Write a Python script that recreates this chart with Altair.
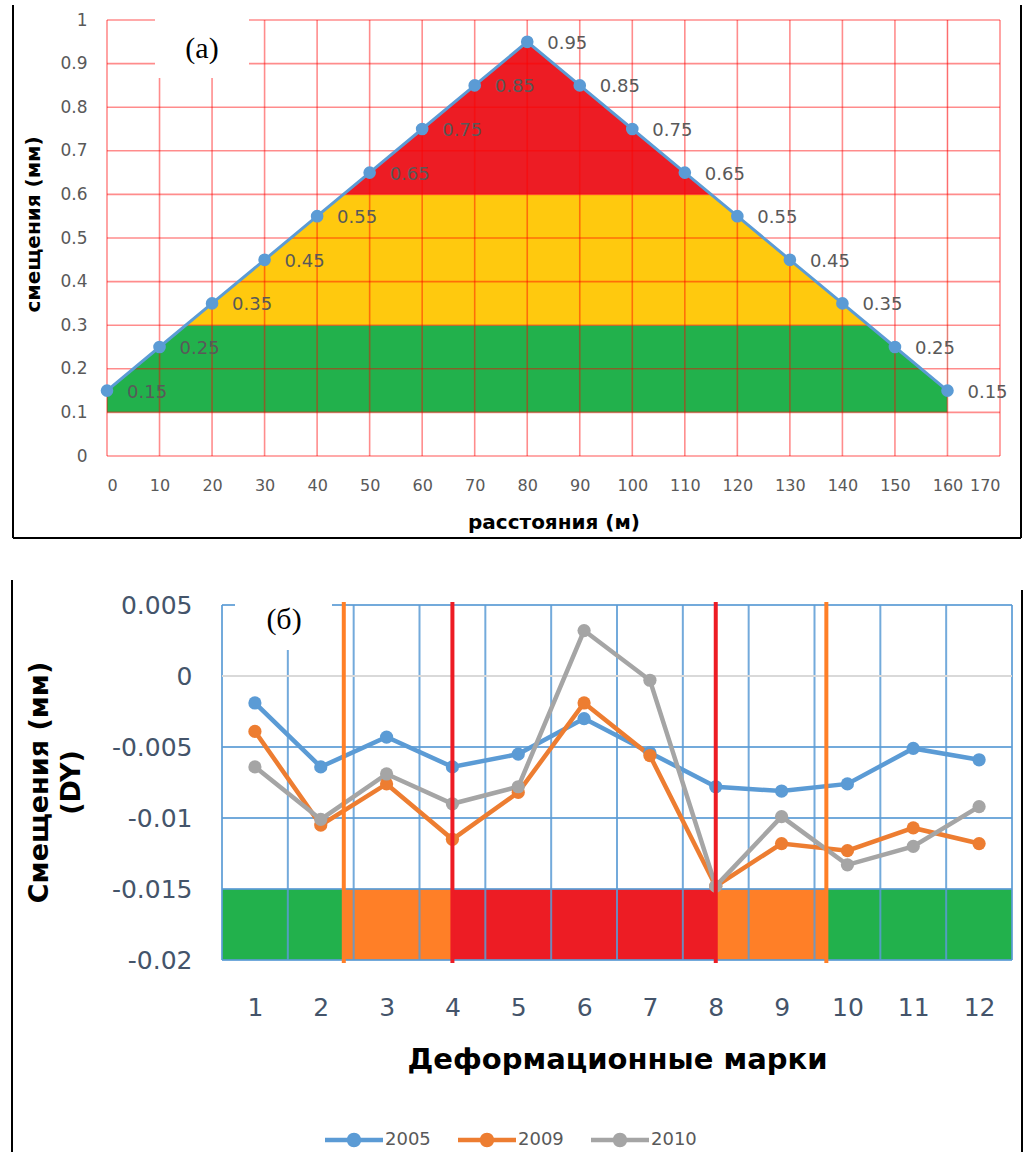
import altair as alt
import pandas as pd

# ---------------- panel (а): displacement envelope along the profile ----------------
distance_m = [0, 10, 20, 30, 40, 50, 60, 70, 80, 90, 100, 110, 120, 130, 140, 150, 160]
shift_mm = [0.15, 0.25, 0.35, 0.45, 0.55, 0.65, 0.75, 0.85, 0.95,
            0.85, 0.75, 0.65, 0.55, 0.45, 0.35, 0.25, 0.15]
a_x_ticks = [0, 10, 20, 30, 40, 50, 60, 70, 80, 90, 100, 110, 120, 130, 140, 150, 160, 170]
a_y_ticks = [0, 0.1, 0.2, 0.3, 0.4, 0.5, 0.6, 0.7, 0.8, 0.9, 1]
a_zone_lo = [0.1, 0.3, 0.6]
a_zone_hi = [0.3, 0.6, 1.0]
a_zone_colors = ["#22B14C", "#FFC90E", "#ED1C24"]

# ---------------- panel (б): deformation marks, DY by year ----------------
marks = [1, 2, 3, 4, 5, 6, 7, 8, 9, 10, 11, 12]
years = ["2005", "2009", "2010"]
dy_2005 = [-0.0019, -0.0064, -0.0043, -0.0064, -0.0055, -0.0030,
           -0.0054, -0.0078, -0.0081, -0.0076, -0.0051, -0.0059]
dy_2009 = [-0.0039, -0.0105, -0.0076, -0.0115, -0.0082, -0.0019,
           -0.0056, -0.0148, -0.0118, -0.0123, -0.0107, -0.0118]
dy_2010 = [-0.0064, -0.0101, -0.0069, -0.0090, -0.0078, 0.0032,
           -0.0003, -0.0148, -0.0099, -0.0133, -0.0120, -0.0092]
year_colors = ["#5B9BD5", "#ED7D31", "#A5A5A5"]
b_y_ticks = [0.005, 0, -0.005, -0.01, -0.015, -0.02]
b_blue_grid = [0.005, -0.005, -0.01, -0.015, -0.02]
b_cell_edges = [0.5, 1.5, 2.5, 3.5, 4.5, 5.5, 6.5, 7.5, 8.5, 9.5, 10.5, 11.5, 12.5]
b_zone_from = [0.5, 2.35, 4.0, 8.0, 9.68]
b_zone_to = [2.35, 4.0, 8.0, 9.68, 12.5]
b_zone_colors = ["#22B14C", "#FF7F27", "#ED1C24", "#FF7F27", "#22B14C"]
b_limit_pos = [2.35, 4.0, 8.0, 9.68]
b_limit_colors = ["#FF7F27", "#ED1C24", "#ED1C24", "#FF7F27"]

SANS = "DejaVu Sans"
SERIF = "Liberation Serif"
one_row = pd.DataFrame({"k": [0]})

# One shared drawing area; each panel gets its own pixel ranges inside it.
W, H = 905, 940
A_W, A_H = 893, 436           # panel (а) occupies x 0..893, y 0..436
B_X0, B_X1 = 115, 905         # panel (б) x range
B_Y0, B_Y1 = 585, 940         # panel (б) y range (top, bottom)


def vrule(x, y0, y1, color="black", width=2):
    return alt.Chart(one_row).mark_rule(color=color, strokeWidth=width).encode(
        x=alt.value(x), y=alt.value(y0), y2=alt.value(y1))


def hrule(y, x0, x1, color="black", width=2):
    return alt.Chart(one_row).mark_rule(color=color, strokeWidth=width).encode(
        y=alt.value(y), x=alt.value(x0), x2=alt.value(x1))


# ================= panel (а) =================
sx_a = alt.Scale(domain=[0, 170], range=[0, A_W], nice=False, zero=False)
sy_a = alt.Scale(domain=[0, 1], range=[A_H, 0], nice=False, zero=False)
ax_a_x = alt.Axis(orient="bottom", offset=-(H - A_H), values=a_x_ticks, grid=False,
                  domain=False, ticks=False, labelOverlap=False,
                  labelFont=SANS, labelFontSize=16, labelColor="#595959", labelPadding=21,
                  title="расстояния (м)", titleFont=SANS, titleFontSize=20,
                  titleFontWeight="bold", titleColor="black",
                  titleX=A_W / 2, titleY=72, titleBaseline="alphabetic")
ax_a_y = alt.Axis(orient="left", values=a_y_ticks, format="~g", grid=False, domain=False,
                  ticks=False,
                  labelFont=SANS, labelFontSize=17, labelColor="#595959", labelPadding=20,
                  title="смещения (мм)", titleFont=SANS, titleFontSize=20,
                  titleFontWeight="bold", titleColor="black", titleAngle=-90,
                  titleX=-68, titleY=204, titleAlign="center", titleBaseline="alphabetic")


def xa(field):
    return alt.X(field, type="quantitative", scale=sx_a, axis=ax_a_x)


def ya(field):
    return alt.Y(field, type="quantitative", scale=sy_a, axis=ax_a_y)


dfa = pd.DataFrame({"dist": distance_m, "shift": shift_mm})
dfa["top"] = 1.0
zones_a = pd.DataFrame({"x0": 0, "x1": 160, "lo": a_zone_lo, "hi": a_zone_hi, "c": a_zone_colors})
vgrid_a = pd.DataFrame({"g": a_x_ticks, "lo": 0.0, "hi": 1.0})
hgrid_a = pd.DataFrame({"g": a_y_ticks, "lo": 0.0, "hi": 170.0})

a_bands = alt.Chart(zones_a).mark_rect().encode(
    x=xa("x0"), x2="x1", y=ya("lo"), y2="hi", color=alt.Color("c:N", scale=None))
# white cover above the envelope leaves the coloured zones only below the line
a_cover = alt.Chart(dfa).mark_area(color="white", opacity=1).encode(
    x=xa("dist"), y=ya("shift"), y2="top")
a_vgrid = alt.Chart(vgrid_a).mark_rule(color="#FF0000", opacity=0.45, strokeWidth=1.6).encode(
    x=xa("g"), y=ya("lo"), y2="hi")
a_hgrid = alt.Chart(hgrid_a).mark_rule(color="#FF0000", opacity=0.45, strokeWidth=1.6).encode(
    y=ya("g"), x=xa("lo"), x2="hi")
a_box = alt.Chart(one_row).mark_rect(color="white").encode(
    x=alt.value(48), x2=alt.value(142), y=alt.value(-12), y2=alt.value(58))
a_tag = alt.Chart(one_row).mark_text(text="(a)", font=SERIF, fontSize=30, color="black",
                                     baseline="middle").encode(x=alt.value(95), y=alt.value(29))
a_line = alt.Chart(dfa).mark_line(color="#5B9BD5", strokeWidth=3).encode(x=xa("dist"), y=ya("shift"))
a_pts = alt.Chart(dfa).mark_circle(color="#5B9BD5", size=160, opacity=1).encode(
    x=xa("dist"), y=ya("shift"))
a_lbl = alt.Chart(dfa).mark_text(align="left", baseline="middle", dx=20, dy=2, font=SANS,
                                 fontSize=18, color="#595959").encode(
    x=xa("dist"), y=ya("shift"), text=alt.Text("shift:Q", format=".2f"))

panel_a = alt.layer(a_bands, a_cover, a_vgrid, a_hgrid, a_box, a_tag, a_line, a_pts, a_lbl,
                    vrule(-94, -15, 518), vrule(914, -15, 518), hrule(518, -94, 914))

# ================= panel (б) =================
sx_b = alt.Scale(domain=[0.5, 12.5], range=[B_X0, B_X1], nice=False, zero=False)
sy_b = alt.Scale(domain=[-0.02, 0.005], range=[B_Y1, B_Y0], nice=False, zero=False)
ax_b_x = alt.Axis(orient="bottom", values=marks, format="d", grid=False, domain=False,
                  ticks=False,
                  labelFont=SANS, labelFontSize=25, labelColor="#44546A", labelPadding=35,
                  title="Деформационные марки", titleFont=SANS, titleFontSize=29,
                  titleFontWeight="bold", titleColor="black",
                  titleX=510, titleY=108, titleBaseline="alphabetic")
ax_b_y = alt.Axis(orient="left", offset=-B_X0, values=b_y_ticks, format="~g",
                  labelExpr="replace(datum.label, '\u2212', '-')",
                  grid=False, domain=False, ticks=False,
                  labelFont=SANS, labelFontSize=25, labelColor="#44546A", labelPadding=30,
                  title=["Смещения (мм)", "(DY)"], titleFont=SANS, titleFontSize=27,
                  titleFontWeight="bold", titleColor="black", titleAngle=-90,
                  titleX=-175, titleY=762, titleAlign="center", titleBaseline="alphabetic",
                  titleLineHeight=32)


def xb(field):
    return alt.X(field, type="quantitative", scale=sx_b, axis=ax_b_x)


def yb(field):
    return alt.Y(field, type="quantitative", scale=sy_b, axis=ax_b_y)


series = pd.DataFrame({
    "mark": marks * 3,
    "year": [years[0]] * 12 + [years[1]] * 12 + [years[2]] * 12,
    "dy": dy_2005 + dy_2009 + dy_2010,
})
zones_b = pd.DataFrame({"x0": b_zone_from, "x1": b_zone_to, "lo": -0.02, "hi": -0.015,
                        "c": b_zone_colors})
vgrid_b = pd.DataFrame({"g": b_cell_edges, "lo": -0.02, "hi": 0.005})
hgrid_b = pd.DataFrame({"g": b_blue_grid, "lo": 0.5, "hi": 12.5})
zero_b = pd.DataFrame({"g": [0.0], "lo": 0.5, "hi": 12.5})
limits_b = pd.DataFrame({"p": b_limit_pos, "c": b_limit_colors})

b_bands = alt.Chart(zones_b).mark_rect().encode(
    x=xb("x0"), x2="x1", y=yb("lo"), y2="hi", color=alt.Color("c:N", scale=None))
b_vgrid = alt.Chart(vgrid_b).mark_rule(color="#5B9BD5", opacity=0.85, strokeWidth=2).encode(
    x=xb("g"), y=yb("lo"), y2="hi")
b_hgrid = alt.Chart(hgrid_b).mark_rule(color="#5B9BD5", opacity=0.85, strokeWidth=2).encode(
    y=yb("g"), x=xb("lo"), x2="hi")
b_zero = alt.Chart(zero_b).mark_rule(color="#D9D9D9", strokeWidth=2).encode(
    y=yb("g"), x=xb("lo"), x2="hi")
b_box = alt.Chart(one_row).mark_rect(color="white").encode(
    x=alt.value(128), x2=alt.value(225), y=alt.value(575), y2=alt.value(630))
b_tag = alt.Chart(one_row).mark_text(text="(б)", font=SERIF, fontSize=30, color="black",
                                     baseline="middle").encode(x=alt.value(177), y=alt.value(600))
color_scale = alt.Scale(domain=years, range=year_colors)
b_lines = alt.Chart(series).mark_line(strokeWidth=4.5).encode(
    x=xb("mark"), y=yb("dy"), color=alt.Color("year:N", scale=color_scale, legend=None))
legend_symbol = ("M-1,-0.075L1,-0.075L1,0.075L-1,0.075Z "
                 "M-0.25,0A0.25,0.25 0 1,1 0.25,0A0.25,0.25 0 1,1 -0.25,0Z")
b_pts = alt.Chart(series).mark_point(filled=True, size=175, opacity=1).encode(
    x=xb("mark"), y=yb("dy"),
    color=alt.Color("year:N", scale=color_scale,
                    legend=alt.Legend(title=None, orient="none", legendX=218, legendY=1091,
                                      direction="horizontal", symbolType=legend_symbol,
                                      symbolSize=3364, symbolStrokeWidth=0,
                                      labelFont=SANS, labelFontSize=18, labelColor="#595959",
                                      labelOffset=2, columnPadding=27, padding=0)))
b_limits = alt.Chart(limits_b).mark_rule(strokeWidth=4).encode(
    x=xb("p"), y=alt.value(582), y2=alt.value(943), color=alt.Color("c:N", scale=None))

panel_b = alt.layer(b_bands, b_vgrid, b_hgrid, b_zero, b_box, b_tag, b_lines, b_pts, b_limits,
                    vrule(-95, 560, 1132), vrule(915, 570, 1132)
                    ).resolve_scale(color="independent")

chart = alt.layer(panel_a, panel_b).resolve_scale(
    x="independent", y="independent", color="independent"
).resolve_axis(x="independent", y="independent").properties(
    width=W, height=H,
    padding={"left": 11, "top": 4, "right": 2, "bottom": 0}, background="white"
).configure_view(stroke=None)

chart.save("out.html", embed_options={"renderer": "svg", "actions": False})
